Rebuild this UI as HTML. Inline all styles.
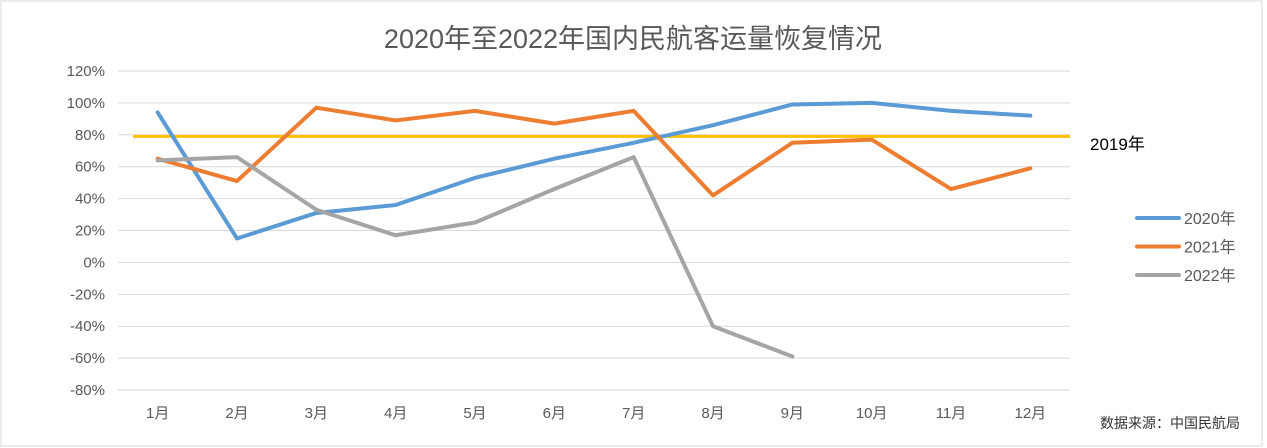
<!DOCTYPE html>
<html><head><meta charset="utf-8"><style>
body{margin:0;background:#fff;}
svg{display:block;font-family:"Liberation Sans","Noto Sans CJK SC",sans-serif;}
</style></head><body>
<svg id="c" width="1267" height="448">
<rect x="1" y="1" width="1261" height="445" fill="#fff" stroke="#d9d9d9"/>
<text x="633" y="48" text-anchor="middle" font-size="27" fill="#595959">2020年至2022年国内民航客运量恢复情况</text>
<g id="grid"></g><g id="series"></g>
<text x="1090" y="150" font-size="17" fill="#000">2019年</text>
<text x="1240" y="428" text-anchor="end" font-size="14" fill="#333">数据来源：中国民航局</text>
</svg>
<script>
const categories=["1月","2月","3月","4月","5月","6月","7月","8月","9月","10月","11月","12月"];
const yTicks=[120,100,80,60,40,20,0,-20,-40,-60,-80];
const s2020=[94,15,31,36,53,65,75,86,99,100,95,92];
const s2021=[65,51,97,89,95,87,95,42,75,77,46,59];
const s2022=[64,66,33,17,25,46,66,-40,-59];
const baseline2019=79;
const NS="http://www.w3.org/2000/svg";
const L=118,R=1070,T=71,B=390;
const bw=(R-L)/categories.length;
const x=i=>L+bw*(i+0.5);
const y=v=>T+(120-v)/200*(B-T);
function mk(tag,attrs,parent){const e=document.createElementNS(NS,tag);for(const k in attrs)e.setAttribute(k,attrs[k]);parent.appendChild(e);return e;}
const g=document.getElementById('grid'),sg=document.getElementById('series');
yTicks.forEach(t=>{
 const ln=mk('line',{x1:L,x2:R,y1:y(t),y2:y(t),stroke:'#d9d9d9','stroke-width':1},g);
 
 
 const tx=mk('text',{x:105,y:y(t)+5,'text-anchor':'end','font-size':15,fill:'#595959'},g);
 tx.textContent=t+'%';
 
 
});
categories.forEach((c,i)=>{
 const tx=mk('text',{x:x(i),y:418,'text-anchor':'middle','font-size':15,fill:'#595959'},g);
 tx.textContent=c;
 
 
});
const bl=mk('line',{x1:133,x2:R,y1:y(baseline2019),y2:y(baseline2019),stroke:'#ffc000','stroke-width':3},sg);


const series=[["2020年",s2020,"#5b9bd5"],["2021年",s2021,"#ed7d31"],["2022年",s2022,"#a5a5a5"]];
series.forEach(([name,d,col],k)=>{
 const p=mk('polyline',{points:d.map((v,i)=>x(i)+','+y(v)).join(' '),fill:'none',stroke:col,'stroke-width':4,'stroke-linejoin':'round','stroke-linecap':'round'},sg);
 
 
 const ly=218+k*28.5;
 const ll=mk('line',{x1:1137,x2:1179,y1:ly,y2:ly,stroke:col,'stroke-width':4,'stroke-linecap':'round'},sg);
 
 
 const lt=mk('text',{x:1184,y:ly+6,'font-size':16,fill:'#595959'},sg);
 lt.textContent=name;
 
 
});
</script>
</body></html>
